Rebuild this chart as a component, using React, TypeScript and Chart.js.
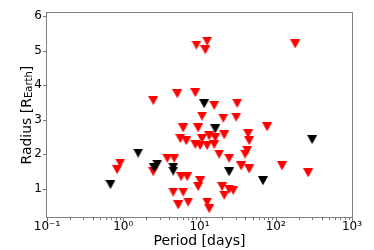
import { useEffect, useRef } from "react";
import { Chart, registerables } from "chart.js";

Chart.register(...registerables);

const FONT = "DejaVu Sans";

// Red markers: orbital period [days], radius [R_Earth]
const redPeriods = [
  9.1, 12.6, 11.9, 180,
  2.47, 5.1, 8.8, 15.6, 31.2,
  10.8, 20.5, 30.3,
  6.1, 9.6, 77,
  5.6, 6.7, 10.8, 13.4, 16.1, 21.1, 43.5, 44.8,
  8.8, 10.2, 12.6, 15.6,
  18.1, 24.5, 42.2, 39.7, 35.2, 44.8, 121, 266,
  0.91, 0.83, 2.47, 3.78, 4.66,
  5.75, 6.9, 10.2, 9.6,
  4.52, 6.1, 5.26, 7.1, 12.6, 13.4,
  19.8, 24.5, 27.7, 21.1,
];
const redRadii = [
  5.16, 5.27, 5.02, 5.19,
  3.55, 3.75, 3.78, 3.41, 3.47,
  3.10, 3.04, 3.07,
  2.76, 2.76, 2.79,
  2.45, 2.39, 2.45, 2.53, 2.48, 2.56, 2.59, 2.39,
  2.28, 2.25, 2.25, 2.28,
  2.0, 1.88, 2.11, 2.0, 1.66, 1.57, 1.66, 1.46,
  1.74, 1.55, 1.49, 1.88, 1.88,
  1.35, 1.35, 1.23, 1.06,
  0.90, 0.90, 0.53, 0.61, 0.61, 0.42,
  1.06, 0.98, 0.95, 0.81,
];

// Black markers
const blackPeriods = [0.68, 1.57, 2.79, 2.55, 4.52, 4.52, 11.5, 16.1, 24.5, 68, 300];
const blackRadii = [1.12, 2.03, 1.71, 1.6, 1.62, 1.51, 3.46, 2.73, 1.49, 1.23, 2.42];

const xTicks = [0.1, 1, 10, 100, 1000];
const xTickLabels = ["10\u207B\u00B9", "10\u2070", "10\u00B9", "10\u00B2", "10\u00B3"];
const yTicks = [1, 2, 3, 4, 5, 6];

const X_MIN = 0.1;
const X_MAX = 1000;
const Y_MIN = 0.15;
const Y_MAX = 6.11;

function makeTriangle(color: string): HTMLCanvasElement {
  const c = document.createElement("canvas");
  c.width = 10;
  c.height = 9;
  const g = c.getContext("2d")!;
  g.fillStyle = color;
  g.beginPath();
  g.moveTo(0, 0);
  g.lineTo(10, 0);
  g.lineTo(5, 9);
  g.closePath();
  g.fill();
  return c;
}

const framePlugin = {
  id: "frame",
  beforeDatasetsDraw(chart: any) {
    const { ctx, chartArea } = chart;
    const { left, right, top, bottom } = chartArea;
    ctx.save();
    ctx.strokeStyle = "#808080";
    ctx.lineWidth = 1;
    ctx.strokeRect(Math.round(left) - 0.5, Math.round(top) + 0.5, Math.round(right - left) + 1, Math.round(bottom - top) - 1);
    // tick marks
    ctx.strokeStyle = "#777";
    const xs = chart.scales.x;
    const ys = chart.scales.y;
    ctx.beginPath();
    for (const v of yTicks) {
      const p = Math.round(ys.getPixelForValue(v)) + 0.5;
      ctx.moveTo(left - 4, p);
      ctx.lineTo(left, p);
    }
    for (const v of xTicks) {
      const p = Math.round(xs.getPixelForValue(v)) + 0.5;
      ctx.moveTo(p, bottom);
      ctx.lineTo(p, bottom + 3.5);
    }
    ctx.stroke();
    ctx.beginPath();
    for (let d = 0; d < xTicks.length - 1; d++) {
      for (let m = 2; m <= 9; m++) {
        const v = xTicks[d] * m;
        const p = Math.round(xs.getPixelForValue(v)) + 0.5;
        ctx.moveTo(p, bottom);
        ctx.lineTo(p, bottom + 2);
      }
    }
    ctx.stroke();
    ctx.restore();
  },
  afterDraw(chart: any) {
    const { ctx, chartArea } = chart;
    const cx = (chartArea.left + chartArea.right) / 2;
    const cy = (chartArea.top + chartArea.bottom) / 2;
    ctx.save();
    ctx.fillStyle = "#000";
    ctx.textBaseline = "alphabetic";
    // x title
    ctx.font = `14px "${FONT}"`;
    ctx.textAlign = "center";
    ctx.fillText("Period [days]", cx, 245);
    // y title with subscript
    ctx.translate(30.5, cy);
    ctx.rotate(-Math.PI / 2);
    ctx.textAlign = "left";
    const mainFont = `14px "${FONT}"`;
    const subFont = `10px "${FONT}"`;
    ctx.font = mainFont;
    const w1 = ctx.measureText("Radius [R").width;
    const w3 = ctx.measureText("]").width;
    ctx.font = subFont;
    const w2 = ctx.measureText("Earth").width;
    const total = w1 + w2 + w3;
    let x0 = -total / 2;
    ctx.font = mainFont;
    ctx.fillText("Radius [R", x0, 0);
    x0 += w1;
    ctx.font = subFont;
    ctx.fillText("Earth", x0, 1.5);
    x0 += w2;
    ctx.font = mainFont;
    ctx.fillText("]", x0, 0);
    ctx.restore();
  },
};

export default function App() {
  const ref = useRef<HTMLCanvasElement | null>(null);

  useEffect(() => {
    if (!ref.current) return;
    const redTri = makeTriangle("#ff0000");
    const blackTri = makeTriangle("#000000");
    const chart = new Chart(ref.current, {
      type: "scatter",
      data: {
        datasets: [
          {
            label: "black",
            data: blackPeriods.map((p, i) => ({ x: p, y: blackRadii[i] })),
            pointStyle: blackTri as any,
            pointRadius: 5,
            backgroundColor: "#000",
            borderColor: "#000",
          },
          {
            label: "red",
            data: redPeriods.map((p, i) => ({ x: p, y: redRadii[i] })),
            pointStyle: redTri as any,
            pointRadius: 5,
            backgroundColor: "#f00",
            borderColor: "#f00",
          },
        ],
      },
      options: {
        animation: false,
        responsive: true,
        maintainAspectRatio: false,
        events: [],
        layout: { padding: { left: 0, right: 22, top: 8, bottom: 0 } },
        plugins: {
          legend: { display: false },
          tooltip: { enabled: false },
        },
        scales: {
          x: {
            type: "logarithmic",
            min: X_MIN,
            max: X_MAX,
            grid: { display: false, drawTicks: false },
            border: { display: false },
            afterBuildTicks: (s: any) => {
              s.ticks = xTicks.map((v) => ({ value: v, major: true }));
            },
            afterFit: (s: any) => {
              s.height = 32;
            },
            ticks: {
              autoSkip: false,
              maxRotation: 0,
              padding: 2,
              color: "#000",
              font: { family: FONT, size: 12 },
              callback: (v: any) => xTickLabels[xTicks.indexOf(Number(v))] ?? "",
            },
          },
          y: {
            type: "linear",
            min: Y_MIN,
            max: Y_MAX,
            grid: { display: false, drawTicks: false },
            border: { display: false },
            afterBuildTicks: (s: any) => {
              s.ticks = yTicks.map((v) => ({ value: v }));
            },
            afterFit: (s: any) => {
              s.width = 47;
            },
            ticks: {
              autoSkip: false,
              padding: 5,
              color: "#000",
              font: { family: FONT, size: 12 },
              callback: (v: any) => String(v),
            },
          },
        },
      },
      plugins: [framePlugin],
    });
    return () => chart.destroy();
  }, []);

  return (
    <div style={{ position: "absolute", left: 0, top: 0, width: 374, height: 250 }}>
      <canvas ref={ref} />
    </div>
  );
}
